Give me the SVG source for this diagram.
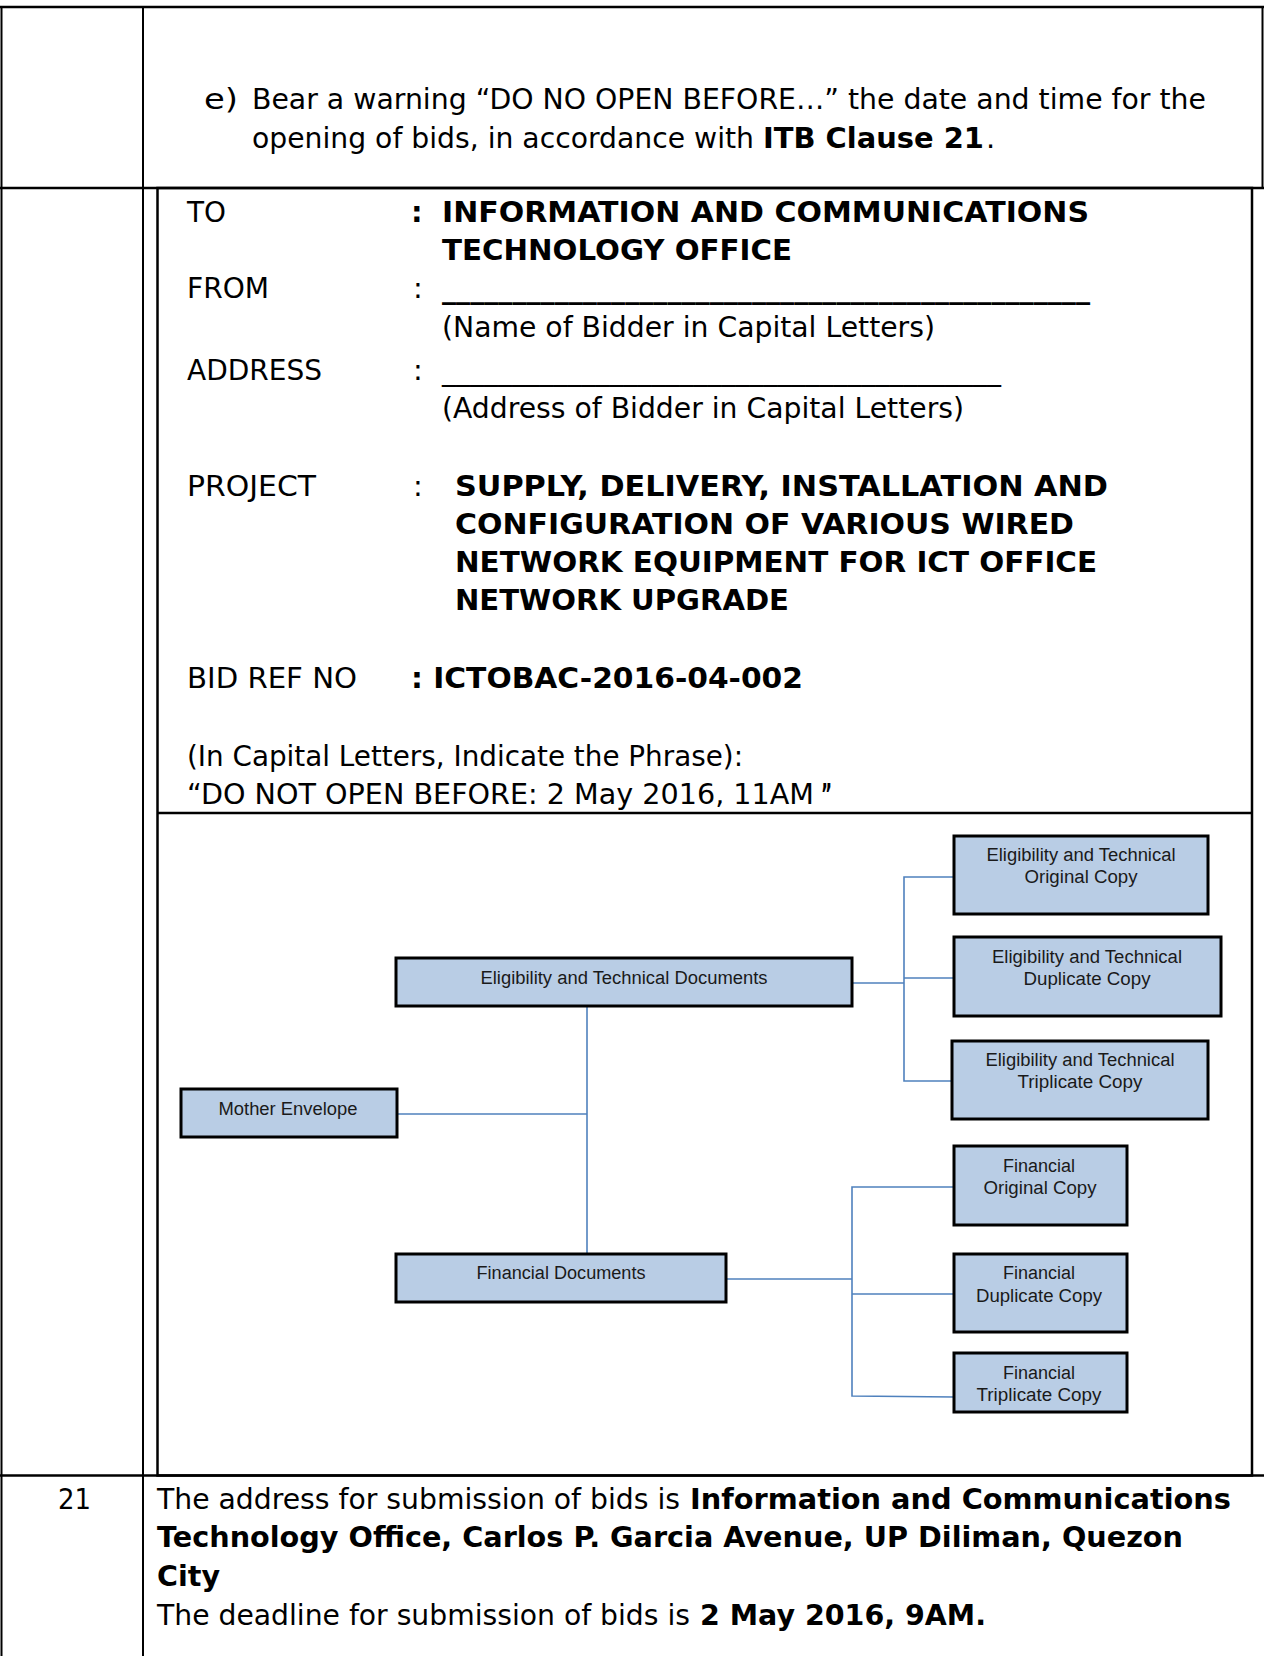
<svg xmlns="http://www.w3.org/2000/svg" width="1264" height="1656" viewBox="0 0 1264 1656">
<style>
.t{font-family:"DejaVu Sans","Liberation Sans",sans-serif;font-size:29px;fill:#000}
.b{font-weight:bold}
.g{stroke:#000;fill:none}
.box{fill:#b9cde5;stroke:#000;stroke-width:3}
.bt{font-family:"Liberation Sans","Open Sans",sans-serif;font-size:18px;fill:#1a1a1a;text-anchor:middle}
.c{stroke:#4f81bd;stroke-width:1.6;fill:none}
</style>
<rect width="1264" height="1656" fill="#fff"/>
<g id="table">
<line class="g" x1="0" y1="7" x2="1264" y2="7" stroke-width="2.5"/>
<line class="g" x1="1.5" y1="6" x2="1.5" y2="1656" stroke-width="2"/>
<line class="g" x1="1262.5" y1="6" x2="1262.5" y2="188" stroke-width="2"/>
<line class="g" x1="143" y1="6" x2="143" y2="1656" stroke-width="2"/>
<line class="g" x1="0" y1="188" x2="1264" y2="188" stroke-width="2.5"/>
<line class="g" x1="0" y1="1475.5" x2="1264" y2="1475.5" stroke-width="2.5"/>
<rect class="g" x="157.5" y="188" width="1094.5" height="1287.5" stroke-width="2.5"/>
<line class="g" x1="157" y1="813" x2="1252" y2="813" stroke-width="2.5"/>
</g>
<g id="row1-text">
<text class="t" x="204" y="109" textLength="34" lengthAdjust="spacingAndGlyphs">e)</text>
<text class="t" x="252" y="109" textLength="954" lengthAdjust="spacingAndGlyphs">Bear a warning “DO NO OPEN BEFORE…” the date and time for the</text>
<text class="t" x="252" y="148" textLength="502" lengthAdjust="spacingAndGlyphs">opening of bids, in accordance with</text>
<text class="t b" x="763" y="148" textLength="221" lengthAdjust="spacingAndGlyphs">ITB Clause 21</text>
<text class="t" x="986" y="148">.</text>
</g>
<g id="label-text">
<text class="t" x="187" y="222" textLength="39" lengthAdjust="spacingAndGlyphs">TO</text>
<text class="t b" x="411" y="222">:</text>
<text class="t b" x="442" y="222" textLength="647" lengthAdjust="spacingAndGlyphs">INFORMATION AND COMMUNICATIONS</text>
<text class="t b" x="442" y="260" textLength="350" lengthAdjust="spacingAndGlyphs">TECHNOLOGY OFFICE</text>
<text class="t" x="187" y="298" textLength="82" lengthAdjust="spacingAndGlyphs">FROM</text>
<text class="t" x="413" y="298">:</text>
<text class="t b" x="442" y="298" textLength="648" lengthAdjust="spacingAndGlyphs">______________________________________________</text>
<text class="t" x="442" y="337" textLength="493" lengthAdjust="spacingAndGlyphs">(Name of Bidder in Capital Letters)</text>
<text class="t" x="187" y="380" textLength="135" lengthAdjust="spacingAndGlyphs">ADDRESS</text>
<text class="t" x="413" y="380">:</text>
<text class="t" x="442" y="380" textLength="559" lengthAdjust="spacingAndGlyphs">________________________________________</text>
<text class="t" x="442" y="418" textLength="522" lengthAdjust="spacingAndGlyphs">(Address of Bidder in Capital Letters)</text>
<text class="t" x="187" y="496" textLength="129" lengthAdjust="spacingAndGlyphs">PROJECT</text>
<text class="t" x="413" y="496">:</text>
<text class="t b" x="455" y="496" textLength="653" lengthAdjust="spacingAndGlyphs">SUPPLY, DELIVERY, INSTALLATION AND</text>
<text class="t b" x="455" y="534" textLength="619" lengthAdjust="spacingAndGlyphs">CONFIGURATION OF VARIOUS WIRED</text>
<text class="t b" x="455" y="572" textLength="642" lengthAdjust="spacingAndGlyphs">NETWORK EQUIPMENT FOR ICT OFFICE</text>
<text class="t b" x="455" y="610" textLength="334" lengthAdjust="spacingAndGlyphs">NETWORK UPGRADE</text>
<text class="t" x="187" y="688" textLength="170" lengthAdjust="spacingAndGlyphs">BID REF NO</text>
<text class="t b" x="411" y="688" textLength="392" lengthAdjust="spacingAndGlyphs">: ICTOBAC-2016-04-002</text>
<text class="t" x="187" y="766" textLength="556" lengthAdjust="spacingAndGlyphs">(In Capital Letters, Indicate the Phrase):</text>
<text class="t" x="187" y="804" textLength="627" lengthAdjust="spacingAndGlyphs">“DO NOT OPEN BEFORE: 2 May 2016, 11AM</text>
<text class="t b" x="821" y="804" textLength="11" lengthAdjust="spacingAndGlyphs">”</text>
</g>
<g id="connectors">
<polyline class="c" points="397,1114 587,1114"/>
<polyline class="c" points="587,1006 587,1254"/>
<polyline class="c" points="852,983 904,983"/>
<polyline class="c" points="954,877 904,877 904,1081 952,1081"/>
<polyline class="c" points="904,978 954,978"/>
<polyline class="c" points="726,1279 852,1279"/>
<polyline class="c" points="954,1187 852,1187 852,1396 954,1397"/>
<polyline class="c" points="852,1294 954,1294"/>
</g>
<g id="node-et-original">
<rect class="box" x="954" y="836" width="254" height="78"/>
<text class="bt" x="1081" y="861" textLength="189" lengthAdjust="spacingAndGlyphs">Eligibility and Technical</text>
<text class="bt" x="1081" y="883" textLength="113" lengthAdjust="spacingAndGlyphs">Original Copy</text>
</g>
<g id="node-et-duplicate">
<rect class="box" x="954" y="937" width="267" height="79"/>
<text class="bt" x="1087" y="963" textLength="190" lengthAdjust="spacingAndGlyphs">Eligibility and Technical</text>
<text class="bt" x="1087" y="985" textLength="127" lengthAdjust="spacingAndGlyphs">Duplicate Copy</text>
</g>
<g id="node-et-triplicate">
<rect class="box" x="952" y="1041" width="256" height="78"/>
<text class="bt" x="1080" y="1066" textLength="189" lengthAdjust="spacingAndGlyphs">Eligibility and Technical</text>
<text class="bt" x="1080" y="1088" textLength="125" lengthAdjust="spacingAndGlyphs">Triplicate Copy</text>
</g>
<g id="node-et-docs">
<rect class="box" x="396" y="958" width="456" height="48"/>
<text class="bt" x="624" y="984" textLength="287" lengthAdjust="spacingAndGlyphs">Eligibility and Technical Documents</text>
</g>
<g id="node-mother">
<rect class="box" x="181" y="1089" width="216" height="48"/>
<text class="bt" x="288" y="1115" textLength="139" lengthAdjust="spacingAndGlyphs">Mother Envelope</text>
</g>
<g id="node-fin-docs">
<rect class="box" x="396" y="1254" width="330" height="48"/>
<text class="bt" x="561" y="1279" textLength="169" lengthAdjust="spacingAndGlyphs">Financial Documents</text>
</g>
<g id="node-fin-original">
<rect class="box" x="954" y="1146" width="173" height="79"/>
<text class="bt" x="1039" y="1172" textLength="72" lengthAdjust="spacingAndGlyphs">Financial</text>
<text class="bt" x="1040" y="1194" textLength="113" lengthAdjust="spacingAndGlyphs">Original Copy</text>
</g>
<g id="node-fin-duplicate">
<rect class="box" x="954" y="1254" width="173" height="78"/>
<text class="bt" x="1039" y="1279" textLength="72" lengthAdjust="spacingAndGlyphs">Financial</text>
<text class="bt" x="1039" y="1302" textLength="126" lengthAdjust="spacingAndGlyphs">Duplicate Copy</text>
</g>
<g id="node-fin-triplicate">
<rect class="box" x="954" y="1353" width="173" height="59"/>
<text class="bt" x="1039" y="1379" textLength="72" lengthAdjust="spacingAndGlyphs">Financial</text>
<text class="bt" x="1039" y="1401" textLength="125" lengthAdjust="spacingAndGlyphs">Triplicate Copy</text>
</g>
<g id="row3-text">
<text class="t" x="58" y="1509" textLength="33" lengthAdjust="spacingAndGlyphs">21</text>
<text class="t" x="157" y="1509" textLength="523" lengthAdjust="spacingAndGlyphs">The address for submission of bids is</text>
<text class="t b" x="690" y="1509" textLength="541" lengthAdjust="spacingAndGlyphs">Information and Communications</text>
<text class="t b" x="157" y="1547" textLength="1026" lengthAdjust="spacingAndGlyphs">Technology Office, Carlos P. Garcia Avenue, UP Diliman, Quezon</text>
<text class="t b" x="157" y="1586" textLength="63" lengthAdjust="spacingAndGlyphs">City</text>
<text class="t" x="157" y="1625" textLength="533" lengthAdjust="spacingAndGlyphs">The deadline for submission of bids is</text>
<text class="t b" x="700" y="1625" textLength="286" lengthAdjust="spacingAndGlyphs">2 May 2016, 9AM.</text>
</g>
</svg>
